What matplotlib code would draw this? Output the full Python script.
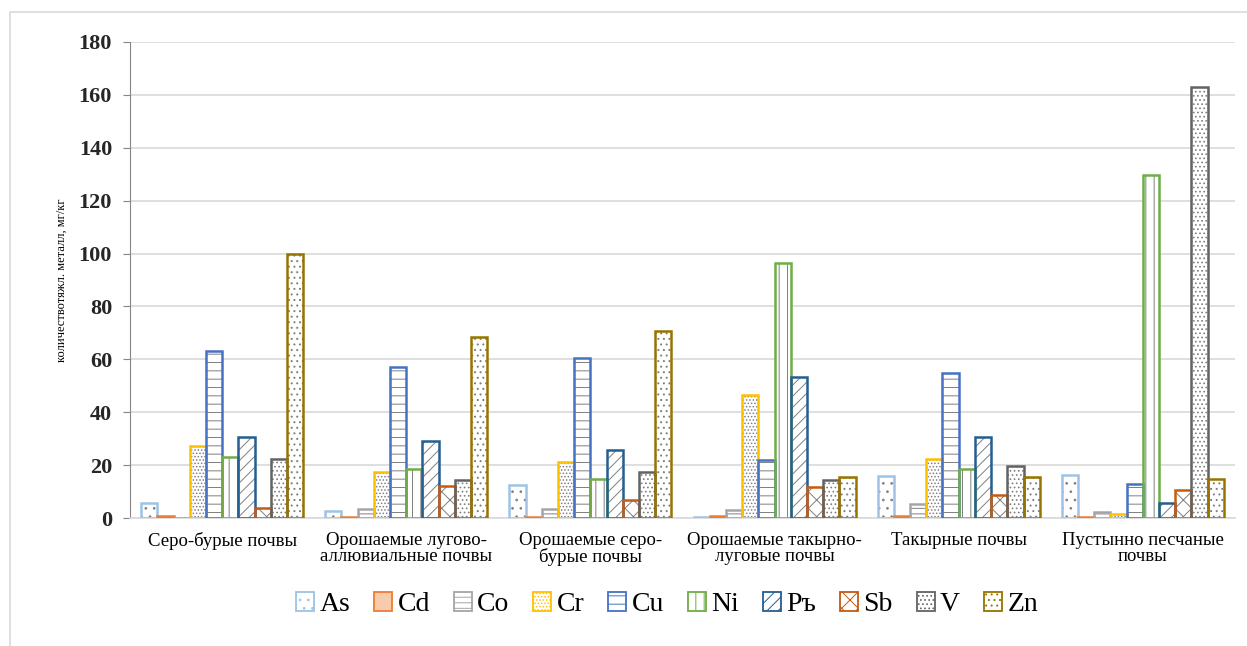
import matplotlib
matplotlib.use("Agg")
import matplotlib.pyplot as plt
from matplotlib.patches import Patch, Rectangle
import numpy as np

# Soil types (x categories)
soils = ["Серо-бурые почвы",
         "Орошаемые лугово-\nаллювиальные почвы",
         "Орошаемые серо-\nбурые почвы",
         "Орошаемые такырно-\nлуговые почвы",
         "Такырные почвы",
         "Пустынно песчаные\nпочвы"]

metals = ["As", "Cd", "Co", "Cr", "Cu", "Ni", "Pъ", "Sb", "V", "Zn"]

# Heavy metal content, mg/kg, one list per metal (order of soils above)
As = [5.7, 2.8, 12.5, 0.3, 15.9, 16.3]
Cd = [0.8, 0.5, 0.5, 0.7, 0.7, 0.5]
Co = [0.0, 3.4, 3.4, 3.0, 5.3, 2.4]
Cr = [27.2, 17.5, 21.3, 46.5, 22.2, 1.5]
Cu = [63.0, 57.2, 60.6, 22.0, 54.7, 12.9]
Ni = [23.0, 18.5, 14.6, 96.5, 18.4, 129.7]
Pb = [30.6, 29.0, 25.7, 53.2, 30.5, 5.8]
Sb = [3.7, 12.2, 6.8, 11.6, 8.7, 10.6]
V = [22.3, 14.4, 17.5, 14.4, 19.7, 163.0]
Zn = [100.0, 68.3, 70.8, 15.6, 15.6, 14.6]

series = [As, Cd, Co, Cr, Cu, Ni, Pb, Sb, V, Zn]
colors = ["#9DC3E6", "#ED7D31", "#A5A5A5", "#FFC000", "#4472C4",
          "#70AD47", "#255E91", "#C55A11", "#636363", "#997300"]
hatches = ["..", None, "---", ".....", "--", "||", "///", "xx", "....", "..."]
faces = ["white", "#F8CBAD", "white", "white", "white",
         "white", "white", "white", "white", "white"]

plt.rcParams["hatch.linewidth"] = 0.7
serif = ["Liberation Serif", "DejaVu Serif"]

fig = plt.figure(figsize=(12.47, 6.46), dpi=100)
ax = fig.add_axes([0.1043, 0.198, 0.886, 0.737])

# light frame around the chart area
fig.patches.append(Rectangle((10 / 1247, -0.1), 1.2, (646 - 12) / 646 + 0.1,
                             transform=fig.transFigure, fill=False,
                             edgecolor="#D9D9D9", linewidth=1.2))

x = np.arange(len(soils))
w = 0.088
for i, (vals, col, h, fc) in enumerate(zip(series, colors, hatches, faces)):
    pos = x + (i - 4.5) * w
    # pattern layer
    ax.bar(pos, vals, w, color=fc, edgecolor="#7F7F7F", linewidth=0,
           hatch=h, zorder=2)
    # outline layer
    ax.bar(pos, vals, w, fill=False, edgecolor=col, linewidth=1.8, zorder=3)

ax.set_xlim(-0.5, len(soils) - 0.5)
ax.set_ylim(0, 180)
ax.set_yticks(np.arange(0, 181, 20))
ax.yaxis.grid(True, color="#D9D9D9", linewidth=1.2, zorder=0)
ax.set_axisbelow(True)

for s in ["top", "right"]:
    ax.spines[s].set_visible(False)
ax.spines["left"].set_color("#868686")
ax.spines["bottom"].set_color("#D9D9D9")
ax.spines["bottom"].set_linewidth(1.2)

ax.set_xticks(x)
ax.set_xticklabels(soils, fontsize=13.5, family=serif, linespacing=0.95)
ax.tick_params(axis="x", length=0, pad=10)
ax.tick_params(axis="y", length=5, color="#868686", pad=8)
for lab in ax.get_yticklabels():
    lab.set_fontsize(16)
    lab.set_fontweight("bold")
    lab.set_family(serif)
    lab.set_color("#262626")

ax.set_ylabel("количествотяжл. металл, мг/кг", fontsize=9, family=serif,
              labelpad=8)

handles = [Patch(facecolor=fc, edgecolor=c, hatch=h, linewidth=1.3)
           for c, h, fc in zip(colors, hatches, faces)]
fig.legend(handles, metals, loc="center", bbox_to_anchor=(0.535, 0.064),
           ncol=10, frameon=False, prop={"family": serif, "size": 20},
           handlelength=0.65, handleheight=0.65, handletextpad=0.2,
           columnspacing=0.85)

fig.savefig("out.png", dpi=100)
